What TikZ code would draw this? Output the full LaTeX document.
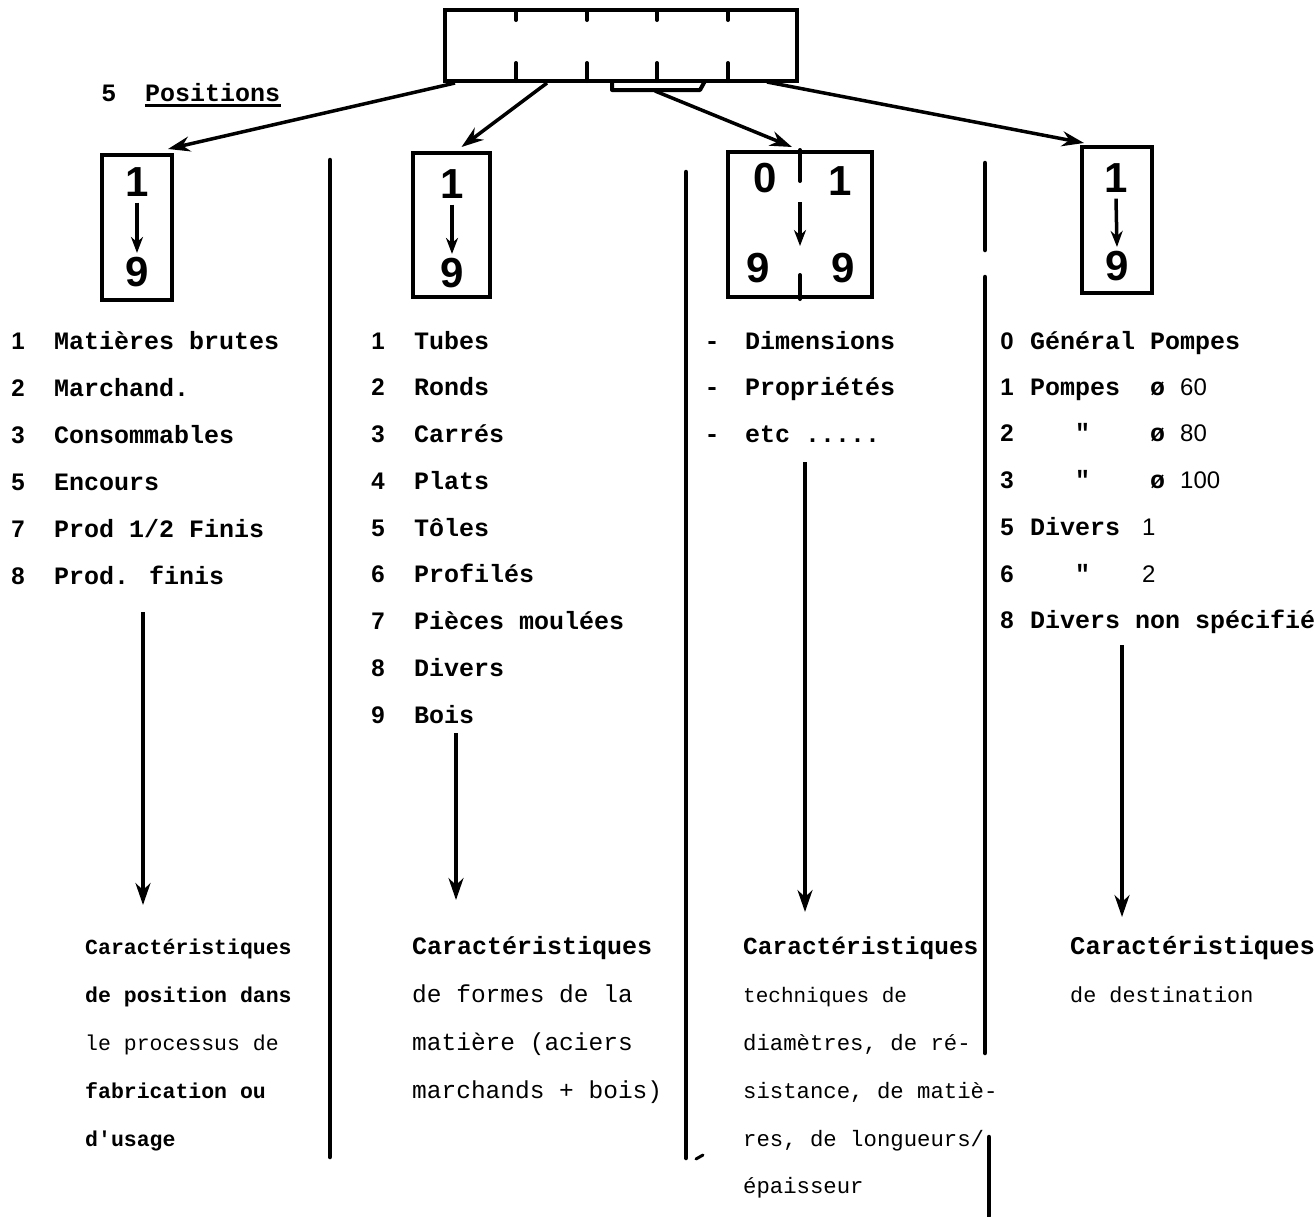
\documentclass[tikz,border=0pt]{standalone}
\usepackage{fontspec}
\usetikzlibrary{arrows.meta,calc}
\newfontfamily\tw{Liberation Mono}
\newfontfamily\hand{Liberation Sans}

\begin{document}
\begin{tikzpicture}[x=1pt,y=-1pt,
  box/.style={draw, line width=4pt, inner sep=0pt},
  tick/.style={line width=4pt, line cap=round},
  link/.style={line width=3.5pt, -{Stealth[length=22pt,width=15pt]}},
  inarrow/.style={line width=3.5pt, -{Stealth[length=16pt,width=12pt]}},
  rule/.style={line width=4.5pt, line cap=round},
  item/.style={anchor=base west, inner sep=0pt, font=\tw\bfseries\fontsize{25}{30}\selectfont},
  num/.style={anchor=base, inner sep=0pt, font=\hand\bfseries\fontsize{24}{30}\selectfont},
  sans/.style={anchor=base west, inner sep=0pt, font=\hand\fontsize{24}{30}\selectfont},
  desc/.style={anchor=base west, inner sep=0pt, font=\tw\fontsize{#1}{#1}\selectfont},
  descb/.style={anchor=base west, inner sep=0pt, font=\tw\bfseries\fontsize{#1}{#1}\selectfont},
  digit/.style={inner sep=0pt, font=\hand\bfseries\fontsize{42}{42}\selectfont}]

\useasboundingbox (0,0) rectangle (1315,1216);
\fill[white] (0,0) rectangle (1315,1216);

% --- register of five positions ---
\node[box, minimum width=352pt, minimum height=71pt] (reg) at (621,45.5) {};
\foreach \x in {516,587,657,728} {
  \draw[tick] (\x,10) -- (\x,20);
  \draw[tick] (\x,81) -- (\x,63);
}
% small bracket under positions 3-4
\draw[tick, line join=round] (612,81) -- (612,90) -- (700,90) -- (705,81);

\node[item, anchor=base] (five) at (109,101) {5};
\node[item] (postitle) at (145,101) {Positions};
\draw[line width=2.5pt] (postitle.south west) ++(0,4) -- ++(136,0);

% --- digit boxes ---
\node[box, minimum width=70pt, minimum height=145pt] (box1) at (137,227.5) {};
\node[box, minimum width=77pt, minimum height=144pt] (box2) at (451.5,225) {};
\node[box, minimum width=144pt, minimum height=145pt] (box3) at (800,224.5) {};
\node[box, minimum width=70pt, minimum height=146pt] (box4) at (1117,220) {};

\node[digit] (b1a) at (137,182) {1};
\node[digit] (b1b) at (137,272) {9};
\draw[inarrow] (b1a.south) ++(0,6) coordinate (b1s) -- ($(b1b.north)+(0,-4)$);

\node[digit] (b2a) at (452,184) {1};
\node[digit] (b2b) at (452,273) {9};
\draw[inarrow] (b2a.south) ++(0,6) coordinate (b2s) -- ($(b2b.north)+(0,-4)$);

\node[digit] (b3a) at (765,178) {0};
\node[digit] (b3b) at (840,181) {1};
\node[digit] (b3c) at (758,268) {9};
\node[digit] (b3d) at (843,268) {9};
\draw[tick] (box3.north) -- ++(0,31);
\draw[tick] (box3.south) -- ++(0,-24);
\coordinate (b3s) at (800,202);
\coordinate (b3e) at (800,246);
\draw[inarrow] (b3s) -- (b3e);

\node[digit] (b4a) at (1116,178) {1};
\node[digit] (b4b) at (1117,266) {9};
\draw[inarrow] (b4a.south) ++(0,6) coordinate (b4s) -- ($(b4b.north)+(0,-4)$);

% --- connectors from the register ---
\coordinate (o1) at (455,83);
\coordinate (o2) at (547,83);
\coordinate (o3) at (655,91);
\coordinate (o4) at (767,82);
\draw[link] (o1) -- ($(box1.north east)+(-6,-4)$);
\draw[link] (o2) -- ($(box2.north)+(10,-4)$);
\draw[link] (o3) -- ($(box3.north)+(-8,-3)$);
\draw[link] (o4) -- ($(box4.north west)+(4,-2)$);

% --- column separators ---
\draw[rule] (330,160) -- (330,1157);
\draw[rule] (686,172) -- (686,1158);
\draw[line width=3pt, line cap=round] (696,1159) -- (703,1155);
\draw[rule] (985,163) -- (985,250);
\draw[rule] (985,277) -- (985,1053);
\draw[rule] (989,1137) -- (989,1216);

% --- column 1: position in the process ---
\foreach \n/\t [count=\i from 0] in {1/Matières brutes, 2/Marchand., 3/Consommables, 5/Encours, 7/Prod 1\slash 2 Finis, 8/Prod. finis} {
  \node[num] (l1n\i) at (18,349+47*\i) {\n};
  \node[item] (l1t\i) at (54,349+47*\i) {\t};
}

% --- column 2: shapes of the material ---
\foreach \n/\t [count=\i from 0] in {1/Tubes, 2/Ronds, 3/Carrés, 4/Plats, 5/Tôles, 6/Profilés, 7/Pièces moulées, 8/Divers, 9/Bois} {
  \node[num] (l2n\i) at (378,349+46.75*\i) {\n};
  \node[item] (l2t\i) at (414,349+46.75*\i) {\t};
}

% --- column 3: technical characteristics ---
\node[item, anchor=base] (l3d0) at (712,349) {-};
\node[item] (l3t0) at (745,349) {Dimensions};
\node[item, anchor=base] (l3d1) at (712,395.5) {-};
\node[item] (l3t1) at (745,395.5) {Propriétés};
\node[item, anchor=base] (l3d2) at (712,442) {-};
\node[item] (l3t2) at (745,442) {etc .....};

% --- column 4: destination ---
\node[num] (l4n0) at (1007,349) {0};
\node[item] (l4t0) at (1030,349) {Général Pompes};
\node[num] (l4n1) at (1007,395) {1};
\node[item] (l4t1) at (1030,395) {Pompes};
\node[num] (l4n2) at (1007,441) {2};
\node[item] (l4q2) at (1075,441) {"};
\node[num] (l4n3) at (1007,488) {3};
\node[item] (l4q3) at (1075,488) {"};
\node[item] (l4o1) at (1150,395) {ø};
\node[sans] (l4v1) at (1180,395) {60};
\node[item] (l4o2) at (1150,441) {ø};
\node[sans] (l4v2) at (1180,441) {80};
\node[item] (l4o3) at (1150,488) {ø};
\node[sans] (l4v3) at (1180,488) {100};
\node[num] (l4n4) at (1007,535) {5};
\node[item] (l4t4) at (1030,535) {Divers};
\node[sans] (l4v4) at (1142,535) {1};
\node[num] (l4n5) at (1007,582) {6};
\node[item] (l4q5) at (1075,582) {"};
\node[sans] (l4v5) at (1142,582) {2};
\node[num] (l4n6) at (1007,628) {8};
\begin{scope}
  \clip (0,0) rectangle (1315,1216);
  \node[item] (l4t6) at (1030,628) {Divers non spécifiés};
  \node[descb=25.5] (d4) at (1070,954) {Caractéristiques};
\end{scope}
\node[desc=21.8] (d4b) at (1070,1002) {de destination};

% --- descriptions ---
\node[descb=21.5] (d1) at (85,954) {Caractéristiques};
\node[descb=21.5] (d1b) at (85,1002) {de position dans};
\node[desc=21.5] (d1c) at (85,1050) {le processus de};
\node[descb=21.5] (d1d) at (85,1098) {fabrication ou};
\node[descb=21.5] (d1e) at (85,1146) {d'usage};

\node[descb=25] (d2) at (412,954) {Caractéristiques};
\node[desc=24.5] (d2b) at (412,1002) {de formes de la};
\node[desc=24.5] (d2c) at (412,1050) {matière (aciers};
\node[desc=24.5] (d2d) at (412,1098) {marchands + bois)};

\node[descb=24.5] (d3) at (743,954) {Caractéristiques};
\node[desc=21] (d3b) at (743,1002) {techniques de};
\node[desc=22.3] (d3c) at (743,1050) {diamètres, de ré-};
\node[desc=22.3] (d3d) at (743,1098) {sistance, de matiè-};
\node[desc=22.3] (d3e) at (743,1146) {res, de longueurs/};
\node[desc=22.3] (d3f) at (743,1193) {épaisseur};

% --- arrows down to the descriptions ---
\coordinate (a1) at (143,612);
\coordinate (a2) at (456,733);
\coordinate (a3) at (805,462);
\coordinate (a4) at (1122,645);
\draw[link] (a1) -- (a1 |- 0,905);
\draw[link] (a2) -- (a2 |- 0,900);
\draw[link] (a3) -- (a3 |- 0,912);
\draw[link] (a4) -- (a4 |- 0,917);
\end{tikzpicture}
\end{document}
